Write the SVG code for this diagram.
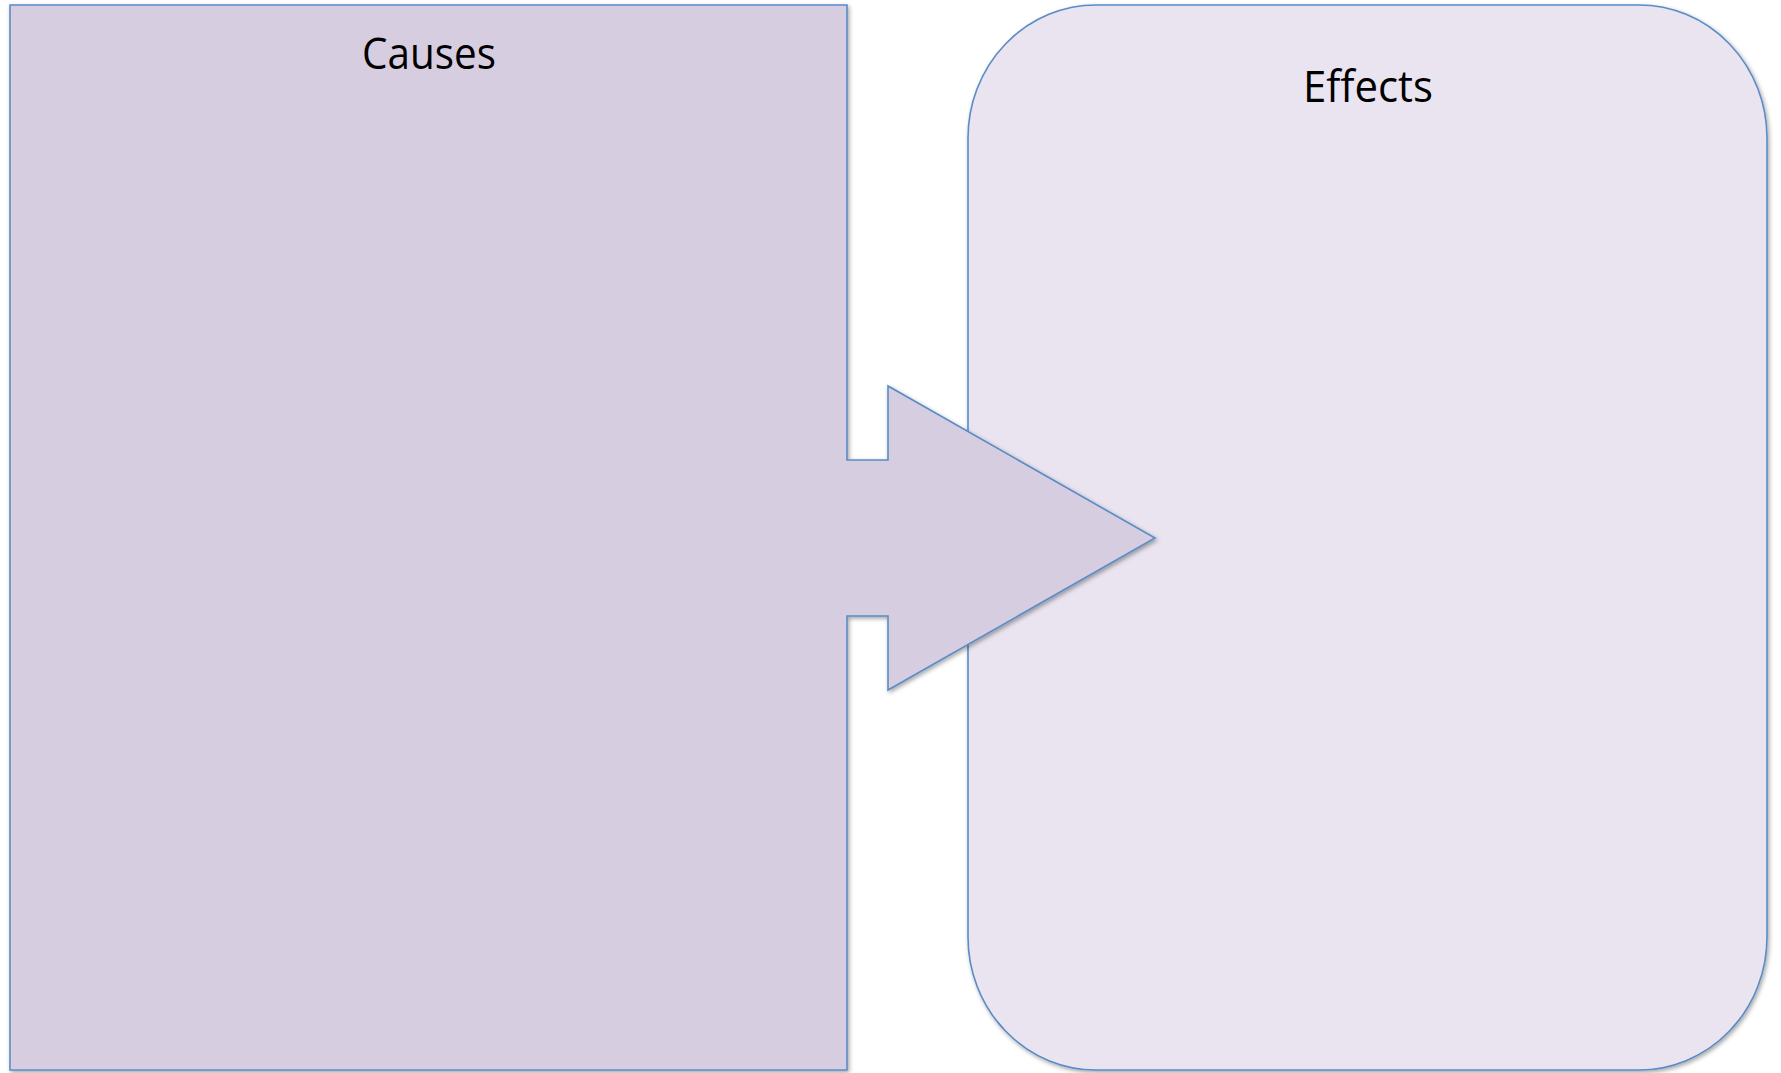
<svg xmlns="http://www.w3.org/2000/svg" width="1781" height="1073" viewBox="0 0 1781 1073">
<defs>
<filter id="sh" x="-5%" y="-5%" width="110%" height="110%">
<feDropShadow dx="1.5" dy="2" stdDeviation="2" flood-color="#000" flood-opacity="0.35"/>
</filter>
<style>
.shape{stroke:#5a8cc6;stroke-width:1.6;filter:url(#sh)}
.lbl{font-family:"Open Sans","Liberation Sans",sans-serif;font-size:44px;fill:#000;text-anchor:middle}
</style>
</defs>
<rect width="1781" height="1073" fill="#fff"/>
<g id="effects">
<rect class="shape" x="968" y="5" width="799" height="1065" rx="128" ry="133" fill="#e9e4f0"/>
<text class="lbl" x="1368" y="102" textLength="130" lengthAdjust="spacingAndGlyphs">Effects</text>
</g>
<g id="causes">
<path class="shape" d="M10,5 H847 V460 H888 V386 L1155,538 L888,690 V616 H847 V1070 H10 Z" fill="#d6cde0"/>
<text class="lbl" x="429" y="69" textLength="134" lengthAdjust="spacingAndGlyphs">Causes</text>
</g>
<g id="connectors"/>
</svg>
